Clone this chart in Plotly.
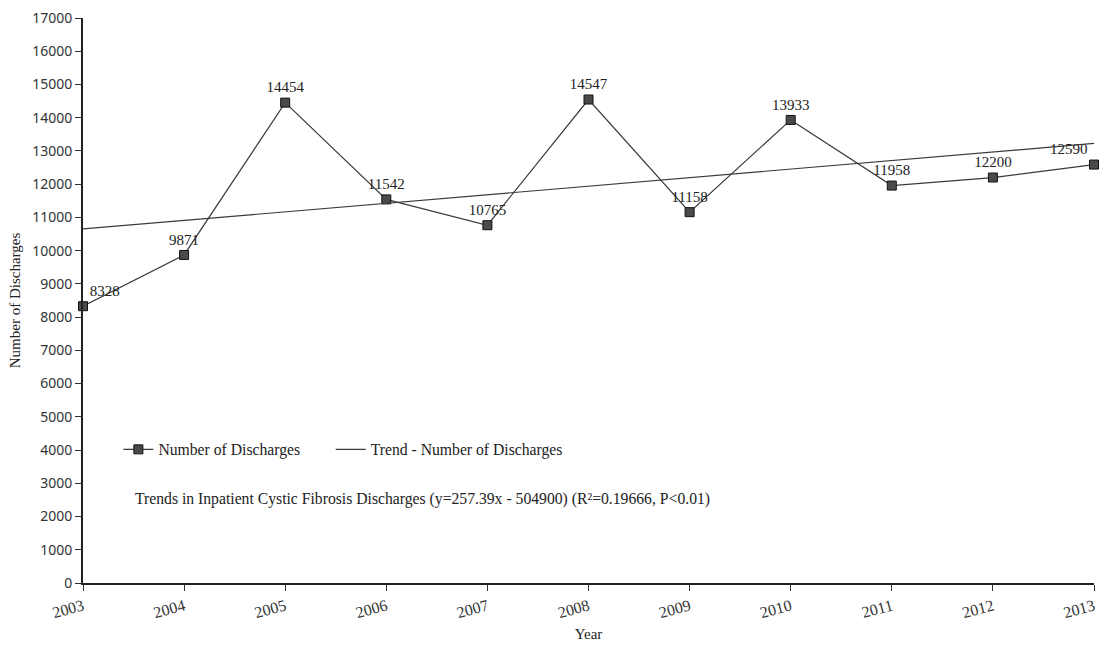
import plotly.graph_objects as go

# Annual inpatient cystic fibrosis discharges
years = [2003, 2004, 2005, 2006, 2007, 2008, 2009, 2010, 2011, 2012, 2013]
discharges = [8328, 9871, 14454, 11542, 10765, 14547, 11158, 13933, 11958, 12200, 12590]

# Linear trend coefficients: y = slope * year + intercept
trend_slope = 257.39
trend_intercept = -504900
trend_values = [trend_slope * yr + trend_intercept for yr in years]

y_ticks = list(range(0, 17001, 1000))
y_tick_labels = [str(v) for v in y_ticks]

label_positions = ["top right"] + ["top center"] * (len(years) - 2) + ["top left"]

serif = "Liberation Serif, Times New Roman, serif"
sans = "Noto Sans, Open Sans, sans-serif"

fig = go.Figure()

fig.add_trace(go.Scatter(
    x=years, y=discharges,
    mode="lines+markers+text",
    name="Number of Discharges",
    line=dict(color="#3a3a3a", width=1.2),
    marker=dict(symbol="square", size=9, color="#4a4a4a",
                line=dict(color="#111111", width=1)),
    text=[str(v) for v in discharges],
    textposition=label_positions,
    textfont=dict(family=serif, size=15, color="#222222"),
    cliponaxis=False,
    legend="legend",
))

fig.add_trace(go.Scatter(
    x=years, y=trend_values,
    mode="lines",
    name="Trend - Number of Discharges",
    line=dict(color="#3a3a3a", width=1.2),
    cliponaxis=False,
    legend="legend2",
))

legend_font = dict(family=serif, size=15.7, color="#222222")

fig.update_layout(
    width=1105, height=648,
    margin=dict(l=83, r=8, t=15, b=60),
    paper_bgcolor="white",
    plot_bgcolor="white",
    showlegend=True,
    legend=dict(
        orientation="h",
        x=0.035, y=0.236, xanchor="left", yanchor="middle",
        font=legend_font,
        bgcolor="rgba(0,0,0,0)",
    ),
    legend2=dict(
        orientation="h",
        x=0.245, y=0.236, xanchor="left", yanchor="middle",
        font=legend_font,
        bgcolor="rgba(0,0,0,0)",
    ),
    annotations=[dict(
        text="Trends in Inpatient Cystic Fibrosis Discharges (y=257.39x - 504900) (R²=0.19666, P<0.01)",
        xref="paper", yref="paper",
        x=0.0495, y=0.148, xanchor="left", yanchor="middle",
        showarrow=False,
        font=dict(family=serif, size=15.7, color="#222222"),
    )],
)

fig.update_xaxes(
    range=[2003, 2013],
    tickmode="array", tickvals=years, ticktext=[str(y) for y in years],
    tickangle=-15,
    ticks="outside", ticklen=6, tickwidth=1, tickcolor="#333333",
    showline=True, linecolor="#222222", linewidth=2,
    showgrid=False, zeroline=False,
    tickfont=dict(family=serif, size=16, color="#333333"),
    title=dict(text="Year", font=dict(family=serif, size=15, color="#222222"), standoff=8),
)

fig.update_yaxes(
    range=[0, 17000],
    tickmode="array", tickvals=y_ticks, ticktext=y_tick_labels,
    ticks="outside", ticklen=6, tickwidth=1, tickcolor="#333333",
    showline=True, linecolor="#222222", linewidth=2,
    showgrid=False, zeroline=False,
    tickfont=dict(family=sans, size=14, color="#333333"),
    title=dict(text="Number of Discharges", font=dict(family=serif, size=15, color="#222222"), standoff=8),
)

fig.write_html("out.html")
